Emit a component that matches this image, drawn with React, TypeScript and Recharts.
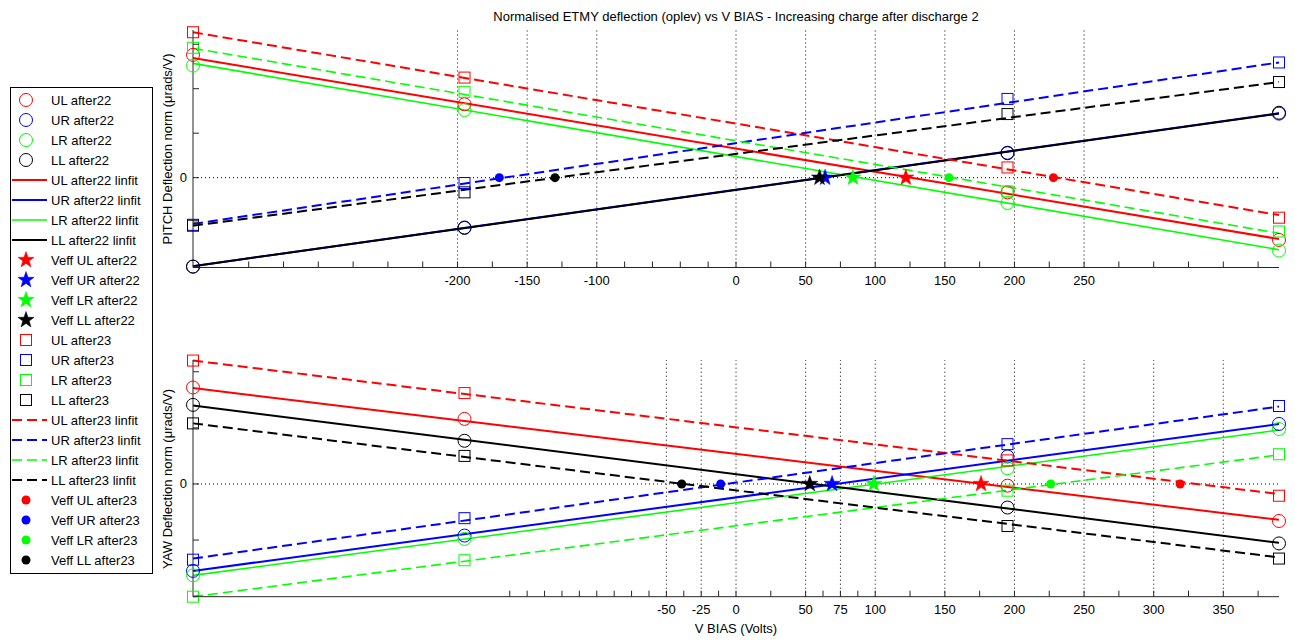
import React from 'react'
import { ComposedChart, Line, Scatter, XAxis, YAxis, ReferenceLine } from 'recharts'

const FONT = '"Liberation Sans", Arial, Helvetica, sans-serif'
const AXIS = '#262626'

const CHANNELS = ['UL', 'UR', 'LR', 'LL']
const COLORS: Record<string, string> = { UL: '#ff0000', UR: '#0000ff', LR: '#00ff00', LL: '#000000' }
const WIDTHS: Record<string, number> = { UL: 2, UR: 2, LR: 1.6, LL: 2 }

// bias voltages of the measurements and ends of the fitted lines
const VBIAS = [-390, -195, 195, 390]
const FIT_V = [-390, 390]

// PITCH: measured points
const PITCH_22: Record<string, number[]> = {
  UL: [2.76, 1.65, -0.33, -1.4],
  UR: [-2.0, -1.12, 0.56, 1.44],
  LR: [2.52, 1.52, -0.57, -1.64],
  LL: [-2.0, -1.13, 0.55, 1.46],
}
const PITCH_23: Record<string, number[]> = {
  UL: [3.27, 2.25, 0.23, -0.9],
  UR: [-1.06, -0.12, 1.77, 2.59],
  LR: [2.92, 1.93, -0.31, -1.21],
  LL: [-1.08, -0.33, 1.43, 2.15],
}
// PITCH: linfit end values
const PITCH_FIT_22: Record<string, number[]> = {
  UL: [2.69, -1.38], UR: [-1.99, 1.45], LR: [2.57, -1.62], LL: [-1.99, 1.44],
}
const PITCH_FIT_23: Record<string, number[]> = {
  UL: [3.27, -0.84], UR: [-1.04, 2.59], LR: [2.91, -1.25], LL: [-1.08, 2.15],
}
// PITCH: Veff (zero crossing) in volts
const PITCH_VEFF_22: Record<string, number> = { UL: 122, UR: 64, LR: 84, LL: 60 }
const PITCH_VEFF_23: Record<string, number> = { UL: 228, UR: -170, LR: 153, LL: -130 }

// YAW: measured points
const YAW_22: Record<string, number[]> = {
  UL: [1.72, 1.16, -0.03, -0.66],
  UR: [-1.55, -0.92, 0.49, 1.07],
  LR: [-1.63, -0.98, 0.28, 0.98],
  LL: [1.41, 0.77, -0.42, -1.06],
}
const YAW_23: Record<string, number[]> = {
  UL: [2.2, 1.62, 0.42, -0.21],
  UR: [-1.35, -0.61, 0.71, 1.39],
  LR: [-2.01, -1.36, -0.12, 0.53],
  LL: [1.08, 0.5, -0.75, -1.33],
}
const YAW_FIT_22: Record<string, number[]> = {
  UL: [1.71, -0.64], UR: [-1.55, 1.07], LR: [-1.63, 0.96], LL: [1.4, -1.05],
}
const YAW_FIT_23: Record<string, number[]> = {
  UL: [2.2, -0.18], UR: [-1.33, 1.38], LR: [-2.01, 0.52], LL: [1.08, -1.31],
}
const YAW_VEFF_22: Record<string, number> = { UL: 176, UR: 69, LR: 99, LL: 53 }
const YAW_VEFF_23: Record<string, number> = { UL: 319, UR: -11, LR: 226, LL: -39 }

// axis ticks (MATLAB put them at odd places)
const PITCH_XTICKS = [-350, -325, -300, -275, -250, -225, -200, -175, -150, -125, -100, -80, -60, -40, -20,
  0, 25, 50, 75, 100, 125, 150, 175, 200, 225, 250, 275, 300, 325, 350, 375]
const PITCH_XLABELS = [-200, -150, -100, 0, 50, 100, 150, 200, 250]
const YAW_XTICKS = [-162.5, -150, -137.5, -125, -112.5, -100, -87.5, -75, -62.5, -50, -37.5, -25, -12.5,
  0, 25, 50, 62.5, 75, 87.5, 100, 125, 150, 175, 200, 225, 250, 275, 300, 325, 350, 375]
const YAW_XLABELS = [-50, -25, 0, 50, 75, 100, 150, 200, 250, 300, 350]
const PITCH_YTICKS = [-2, -1, 0, 1, 2, 3]
const YAW_YTICKS = [-2, -1, 0, 1, 2]

const rows = (xs: number[], ys: number[]) => xs.map((x, i) => ({ x, y: ys[i] }))

function starPath(cx: number, cy: number, R: number, r: number) {
  let d = ''
  for (let i = 0; i < 10; i++) {
    const a = (-90 + i * 36) * Math.PI / 180
    const rad = i % 2 ? r : R
    d += (i ? 'L' : 'M') + (cx + rad * Math.cos(a)).toFixed(2) + ',' + (cy + rad * Math.sin(a)).toFixed(2)
  }
  return d + 'Z'
}

function Marker({ kind, cx, cy, color }: any) {
  if (cx == null || cy == null) return <g />
  if (kind === 'circle') return <circle cx={cx} cy={cy} r={6.5} fill="none" stroke={color} strokeWidth={1} />
  if (kind === 'square') return <rect x={cx - 5.5} y={cy - 5.5} width={11} height={11} fill="none" stroke={color} strokeWidth={1} />
  if (kind === 'star') return <path d={starPath(cx, cy, 8.5, 3.4)} fill={color} stroke={color} strokeWidth={0.5} />
  return <circle cx={cx} cy={cy} r={4.5} fill={color} />
}

const xTick = (labels: number[]) => (p: any) => {
  const v = p.payload.value
  return (
    <g>
      <line x1={p.x} x2={p.x} y1={p.y} y2={p.y - 6} stroke={AXIS} />
      {labels.includes(v) && (
        <text x={p.x} y={p.y + 17} textAnchor="middle" fontSize={13} fontFamily={FONT} fill="#000">{v}</text>
      )}
    </g>
  )
}

const yTick = (p: any) => (
  <g>
    <line x1={p.x} x2={p.x + 6} y1={p.y} y2={p.y} stroke={AXIS} />
    {p.payload.value === 0 && (
      <text x={p.x - 6} y={p.y + 4.5} textAnchor="end" fontSize={13} fontFamily={FONT} fill="#000">0</text>
    )}
  </g>
)

function Panel({ top, height, plotBottom, domain, yTicks, xTicks, xLabels, pts22, pts23, fit22, fit23, veff22, veff23 }: any) {
  return (
    <div style={{ position: 'absolute', left: 0, top, width: 1295, height }}>
      <ComposedChart width={1295} height={height} margin={{ top: 30, right: 16, bottom: height - plotBottom - 1, left: 192 }}>
        <XAxis type="number" dataKey="x" domain={[-390, 390]} ticks={xTicks} interval={0}
          height={1} tickSize={0} tickMargin={0} tickLine={false} axisLine={{ stroke: AXIS }} tick={xTick(xLabels)} />
        <YAxis type="number" dataKey="y" domain={domain} ticks={yTicks} interval={0}
          width={1} tickSize={0} tickMargin={0} tickLine={false} axisLine={{ stroke: AXIS }} tick={yTick} />
        {xLabels.map((v: number) => (
          <ReferenceLine key={'g' + v} x={v} stroke="#000" strokeDasharray="1 3" />
        ))}
        <ReferenceLine y={0} stroke="#000" strokeDasharray="1 3" />

        {CHANNELS.map(c => (
          <Scatter key={'p22' + c} data={rows(VBIAS, pts22[c])} dataKey="y" isAnimationActive={false}
            shape={(s: any) => <Marker kind="circle" cx={s.cx} cy={s.cy} color={COLORS[c]} />} />
        ))}
        {CHANNELS.map(c => (
          <Line key={'f22' + c} data={rows(FIT_V, fit22[c])} dataKey="y" stroke={COLORS[c]} strokeWidth={WIDTHS[c]}
            dot={false} activeDot={false} isAnimationActive={false} />
        ))}
        {CHANNELS.map(c => (
          <Scatter key={'v22' + c} data={[{ x: veff22[c], y: 0 }]} dataKey="y" isAnimationActive={false}
            shape={(s: any) => <Marker kind="star" cx={s.cx} cy={s.cy} color={COLORS[c]} />} />
        ))}
        {CHANNELS.map(c => (
          <Scatter key={'p23' + c} data={rows(VBIAS, pts23[c])} dataKey="y" isAnimationActive={false}
            shape={(s: any) => <Marker kind="square" cx={s.cx} cy={s.cy} color={COLORS[c]} />} />
        ))}
        {CHANNELS.map(c => (
          <Line key={'f23' + c} data={rows(FIT_V, fit23[c])} dataKey="y" stroke={COLORS[c]} strokeWidth={WIDTHS[c]}
            strokeDasharray="10 5" dot={false} activeDot={false} isAnimationActive={false} />
        ))}
        {CHANNELS.map(c => (
          <Scatter key={'v23' + c} data={[{ x: veff23[c], y: 0 }]} dataKey="y" isAnimationActive={false}
            shape={(s: any) => <Marker kind="dot" cx={s.cx} cy={s.cy} color={COLORS[c]} />} />
        ))}
      </ComposedChart>
    </div>
  )
}

const LEGEND_GROUPS = [
  { kind: 'circle', fmt: (c: string) => `${c} after22` },
  { kind: 'solid', fmt: (c: string) => `${c} after22 linfit` },
  { kind: 'star', fmt: (c: string) => `Veff ${c} after22` },
  { kind: 'square', fmt: (c: string) => `${c} after23` },
  { kind: 'dashed', fmt: (c: string) => `${c} after23 linfit` },
  { kind: 'dot', fmt: (c: string) => `Veff ${c} after23` },
]

function LegendBox() {
  const entries = LEGEND_GROUPS.flatMap(g => CHANNELS.map(c => ({ kind: g.kind, label: g.fmt(c), color: COLORS[c], c })))
  return (
    <g>
      <rect x={10.5} y={87.5} width={142} height={486} fill="#fff" stroke="#000" strokeWidth={1} />
      {entries.map((e, i) => {
        const y = 100 + i * 20
        let sym
        if (e.kind === 'solid' || e.kind === 'dashed') {
          sym = <line x1={12} x2={47} y1={y} y2={y} stroke={e.color} strokeWidth={WIDTHS[e.c]}
            strokeDasharray={e.kind === 'dashed' ? '10 5' : undefined} />
        } else {
          sym = <Marker kind={e.kind} cx={26} cy={y} color={e.color} />
        }
        return (
          <g key={e.label}>
            {sym}
            <text x={51} y={y + 4.5} fontSize={13} fontFamily={FONT} fill="#000">{e.label}</text>
          </g>
        )
      })}
    </g>
  )
}

export default function App() {
  return (
    <div style={{ position: 'absolute', left: 0, top: 0, width: 1295, height: 642, background: '#fff', overflow: 'hidden' }}>
      <Panel top={0} height={300} plotBottom={267.5} domain={[-2.02, 3.32]} yTicks={PITCH_YTICKS}
        xTicks={PITCH_XTICKS} xLabels={PITCH_XLABELS} pts22={PITCH_22} pts23={PITCH_23}
        fit22={PITCH_FIT_22} fit23={PITCH_FIT_23} veff22={PITCH_VEFF_22} veff23={PITCH_VEFF_23} />
      <Panel top={330} height={312} plotBottom={266.7} domain={[-2.01, 2.21]} yTicks={YAW_YTICKS}
        xTicks={YAW_XTICKS} xLabels={YAW_XLABELS} pts22={YAW_22} pts23={YAW_23}
        fit22={YAW_FIT_22} fit23={YAW_FIT_23} veff22={YAW_VEFF_22} veff23={YAW_VEFF_23} />
      <svg width={1295} height={642} style={{ position: 'absolute', left: 0, top: 0, pointerEvents: 'none' }}>
        <text x={736} y={21} textAnchor="middle" fontSize={13} fontFamily={FONT} fill="#000">
          Normalised ETMY deflection (oplev) vs V BIAS - Increasing charge after discharge 2
        </text>
        <text x={172} y={149} textAnchor="middle" fontSize={13} fontFamily={FONT} fill="#000" transform="rotate(-90 172 149)">
          PITCH Deflection norm (μrads/V)
        </text>
        <text x={172} y={479} textAnchor="middle" fontSize={13} fontFamily={FONT} fill="#000" transform="rotate(-90 172 479)">
          YAW Deflection norm (μrads/V)
        </text>
        <text x={736} y={633} textAnchor="middle" fontSize={13} fontFamily={FONT} fill="#000">V BIAS (Volts)</text>
        <LegendBox />
      </svg>
    </div>
  )
}
